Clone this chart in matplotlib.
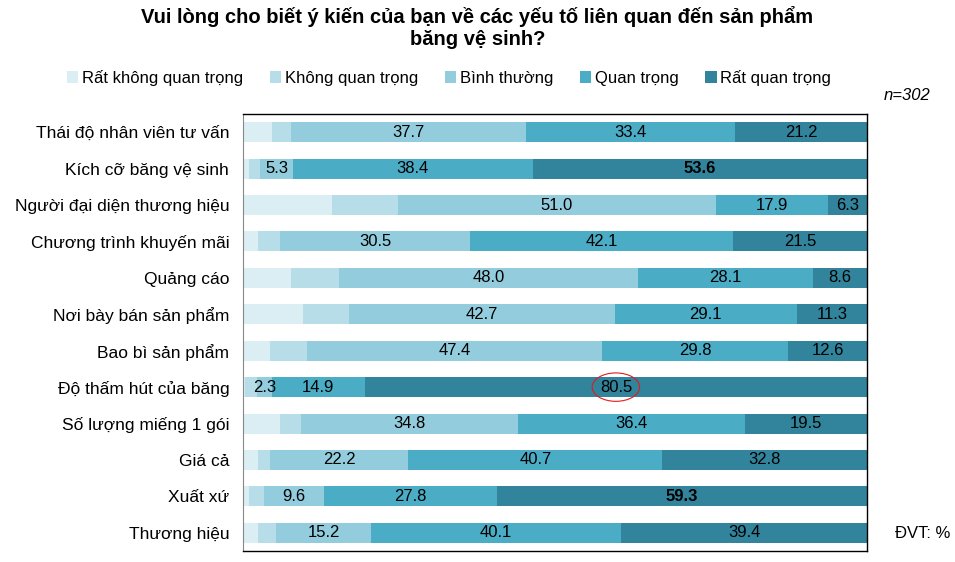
import matplotlib
matplotlib.use('Agg')
import matplotlib.pyplot as plt
from matplotlib.patches import Ellipse
import numpy as np

plt.rcParams['font.family'] = ['Liberation Sans', 'DejaVu Sans']

# categories, top to bottom
categories = ['Thái độ nhân viên tư vấn', 'Kích cỡ băng vệ sinh', 'Người đại diện thương hiệu',
              'Chương trình khuyến mãi', 'Quảng cáo', 'Nơi bày bán sản phẩm', 'Bao bì sản phẩm',
              'Độ thấm hút của băng', 'Số lượng miếng 1 gói', 'Giá cả', 'Xuất xứ', 'Thương hiệu']
series_names = ['Rất không quan trọng', 'Không quan trọng', 'Bình thường', 'Quan trọng', 'Rất quan trọng']

# first two series are not labelled in the source
rat_khong = [4.6, 1.0, 14.3, 2.4, 7.7, 9.6, 4.3, 0.3, 5.9, 2.4, 1.0, 2.4]
khong = [3.1, 1.7, 10.5, 3.5, 7.6, 7.3, 5.9, 2.0, 3.4, 1.9, 2.3, 2.9]
binh_thuong = [37.7, 5.3, 51.0, 30.5, 48.0, 42.7, 47.4, 2.3, 34.8, 22.2, 9.6, 15.2]
quan_trong = [33.4, 38.4, 17.9, 42.1, 28.1, 29.1, 29.8, 14.9, 36.4, 40.7, 27.8, 40.1]
rat_quan_trong = [21.2, 53.6, 6.3, 21.5, 8.6, 11.3, 12.6, 80.5, 19.5, 32.8, 59.3, 39.4]

colors = ['#dbeef4', '#b7dee8', '#93cddd', '#4bacc6', '#31849b']
bold_values = [53.6, 59.3]

data = np.array([rat_khong, khong, binh_thuong, quan_trong, rat_quan_trong])
y = np.arange(len(categories))

fig = plt.figure(figsize=(9.55, 5.62), dpi=100)
ax = fig.add_axes([0.2545, 0.0196, 0.6534, 0.7775])

left = np.zeros(len(categories))
for k in range(5):
    ax.barh(y, data[k], left=left, height=0.55, color=colors[k], label=series_names[k])
    if k >= 2:
        for i in range(len(categories)):
            v = data[k][i]
            ax.text(left[i] + v / 2, y[i], '%.1f' % v, ha='center', va='center', fontsize=12,
                    fontweight='bold' if v in bold_values else 'normal')
    left += data[k]

# red circle around the 80.5 value
i_ht = categories.index('Độ thấm hút của băng')
xc = rat_khong[i_ht] + khong[i_ht] + binh_thuong[i_ht] + quan_trong[i_ht] + rat_quan_trong[i_ht] / 2
ax.add_patch(Ellipse((xc, y[i_ht]), 7.6, 0.78, fill=False, ec='#e31a1c', lw=0.8))

ax.set_xlim(0, 100)
ax.set_ylim(len(categories) - 0.5, -0.5)
ax.set_yticks(y)
ax.set_yticklabels(categories, fontsize=12.5)
ax.set_xticks([])
ax.tick_params(axis='y', length=0, pad=10)
for s in ['top', 'right', 'bottom']:
    ax.spines[s].set_color('black')
    ax.spines[s].set_linewidth(1)
ax.spines['left'].set_color('#888888')

fig.text(0.5, 0.99, 'Vui lòng cho biết ý kiến của bạn về các yếu tố liên quan đến sản phẩm\nbăng vệ sinh?',
         ha='center', va='top', fontsize=14.5, fontweight='bold', linespacing=1.2)
fig.legend(loc='center', bbox_to_anchor=(0.47, 0.862), ncol=5, frameon=False, fontsize=12,
           handlelength=0.7, handleheight=0.7, handletextpad=0.2, columnspacing=1.6)
fig.text(0.974, 0.83, 'n=302', ha='right', va='center', fontsize=12, style='italic')
fig.text(0.995, 0.05, 'ĐVT: %', ha='right', va='center', fontsize=12)

plt.savefig('out.png', dpi=100)
